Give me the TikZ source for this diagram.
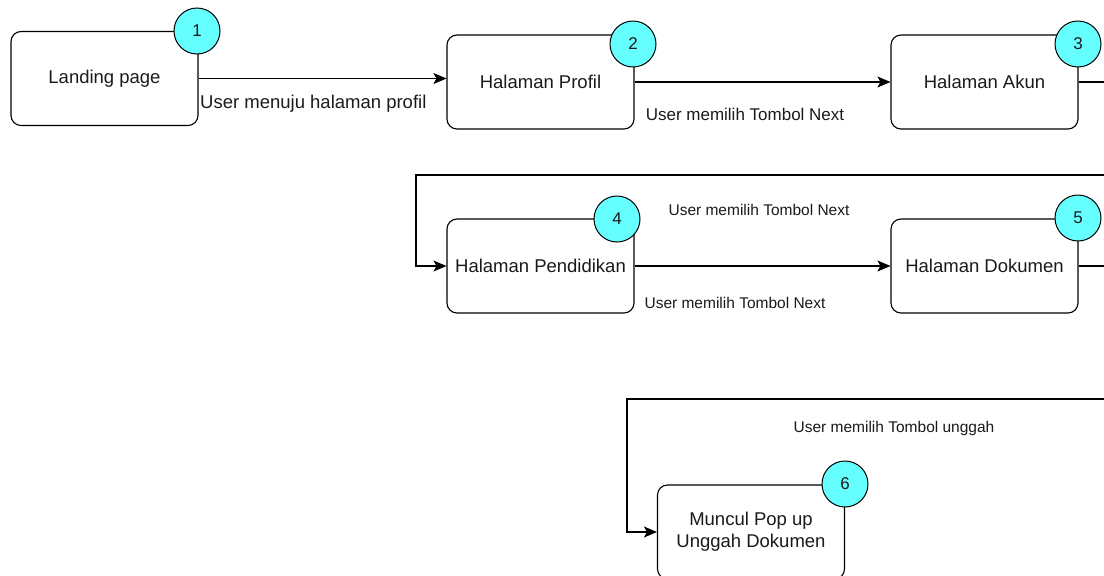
\documentclass[tikz,border=0pt]{standalone}
\usepackage{fontspec}
\setmainfont{Liberation Sans}
\usetikzlibrary{arrows.meta}
\definecolor{badgecol}{HTML}{66FFFF}
\definecolor{ink}{HTML}{1A1A1A}
\begin{document}
\begin{tikzpicture}[x=1pt,y=-1pt,
  page/.style={draw, line width=1.1pt, rounded corners=10pt, minimum width=187pt, minimum height=94pt, inner sep=0pt, align=center, text=ink, font=\fontsize{18.5}{22}\selectfont},
  badge/.style={circle, draw, line width=1pt, fill=badgecol, minimum size=46pt, inner sep=0pt, text=ink, font=\fontsize{17}{20}\selectfont},
  flow/.style={line width=1.2pt, -{Stealth[length=13pt,width=11pt,inset=3pt]}},
  lbl/.style={font=\fontsize{15.5}{18}\selectfont, inner sep=0pt, text=ink}]
\useasboundingbox (0,0) rectangle (1104,576);
\clip (0,0) rectangle (1104,576);
% boxes
\node[page] (b1) at (104.5,78.5) {Landing page};
\node[page] (b2) at (540.5,82) {Halaman Profil};
\node[page] (b3) at (984.5,82) {Halaman Akun};
\node[page] (b4) at (540.5,266) {Halaman Pendidikan};
\node[page] (b5) at (984.5,266) {Halaman Dokumen};
\node[page] (b6) at (751,532) {Muncul Pop up\\Unggah Dokumen};
% connectors
\coordinate (e1) at (1124,175);
\coordinate (w1) at (416,175);
\coordinate (e2) at (1124,399);
\coordinate (w2) at (627,399);
\draw[flow] (b1.east) -- (b1.east -| b2.west);
\draw[flow] (b2.east) -- (b3.west);
\draw[flow] (b3.east) -| (e1) -- (w1) |- (b4.west);
\draw[flow] (b4.east) -- (b5.west);
\draw[flow] (b5.east) -| (e2) -- (w2) |- (b6.west);
% badges
\node[badge] (c1) at (197,31) {1};
\node[badge] (c2) at (633,44) {2};
\node[badge] (c3) at (1078,44) {3};
\node[badge] (c4) at (617,219) {4};
\node[badge] (c5) at (1078,218) {5};
\node[badge] (c6) at (845,484) {6};
% labels
\node[lbl, font=\fontsize{18.5}{22}\selectfont, anchor=west] (l1) at (200,104) {User menuju halaman profil};
\node[lbl, font=\fontsize{17}{20}\selectfont] (l2) at (745,114) {User memilih Tombol Next};
\node[lbl] (l3) at (759,210) {User memilih Tombol Next};
\node[lbl] (l4) at (735,303) {User memilih Tombol Next};
\node[lbl] (l5) at (894,428) {User memilih Tombol unggah};
\end{tikzpicture}
\end{document}
